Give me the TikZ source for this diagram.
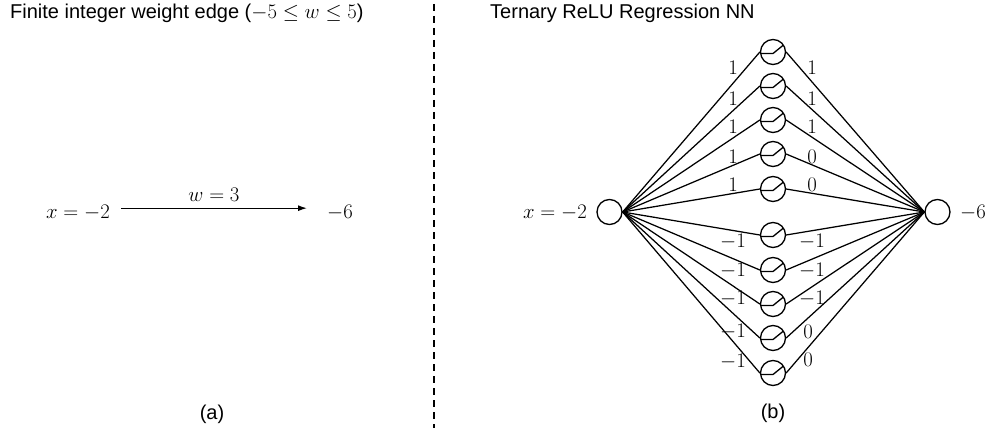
\documentclass[tikz,border=0pt]{standalone}
\usepackage{fontspec}
\setmainfont{Liberation Sans}
\usetikzlibrary{arrows.meta}
\tikzset{
  neuron/.style={draw, circle, minimum size=25pt, inner sep=0pt, line width=1.3pt},
  relu/.style={neuron, path picture={\draw[line width=1.3pt]
      ([xshift=-12pt,yshift=-1.5pt]path picture bounding box.center) -- ++(12pt,0) -- ++(10.5pt,8.5pt);}},
  conn/.style={line width=1.25pt},
  wl/.style={inner sep=0pt, anchor=center},
  txt/.style={inner sep=0pt},
}
\begin{document}
\begin{tikzpicture}[x=1pt,y=-1pt]
\fontsize{20}{24}\selectfont
\useasboundingbox (0,0) rectangle (986,428);
% titles
\node[txt, anchor=base west] (ta) at (10,18.5) {Finite integer weight edge ($-5\le w\le 5$)};
\node[txt, anchor=base west] (tb) at (490,19) {Ternary ReLU Regression NN};
\node[txt, anchor=base] (capa) at (212,419) {(a)};
\node[txt, anchor=base] (capb) at (773,418) {(b)};
% divider
\coordinate (d1) at (434,4);
\coordinate (d2) at (434,428);
\draw[line width=1.2pt, dash pattern=on 7pt off 5pt] (d1) -- (d2);
% panel (a)
\node[txt, anchor=base east] (xa) at (110,218) {$x=-2$};
\node[txt, anchor=base west] (ya) at (327,218) {$-6$};
\draw[conn, -{Latex[length=9pt,width=6pt]}] ([xshift=11pt,yshift=4pt]xa.east) -- ([xshift=-20pt,yshift=4pt]ya.west)
  node[midway, above=6pt, inner sep=0pt] (wa) {$w=3$};
% panel (b)
\node[neuron] (in) at (609.5,212) {};
\node[neuron] (out) at (937.5,212) {};
\node[txt, anchor=base east] (xb) at (587,218) {$x=-2$};
\node[txt, anchor=base west] (yb) at (960,218) {$-6$};
\foreach \i/\y in {1/52,2/86,3/120,4/154,5/189,6/235,7/270,8/304,9/338,10/373}{
  \node[relu] (h\i) at (773,\y) {};
  \draw[conn] (in.east) -- (h\i.west);
  \draw[conn] (h\i.east) -- (out.west);
}
% weights left
\foreach \i/\y/\t in {1/68/1,2/99/1,3/127/1,4/157/1,5/185/1,6/242/-1,7/271/-1,8/299/-1,9/332/-1,10/362/-1}{
  \node[wl] (wl\i) at (733,\y) {$\t$};
}
% weights right
\foreach \i/\x/\y/\t in {1/812/68/1,2/812/99/1,3/812/127/1,4/812/157/0,5/812/185/0,6/812/242/-1,7/812/271/-1,8/812/299/-1,9/808/332/0,10/808/360/0}{
  \node[wl] (wr\i) at (\x,\y) {$\t$};
}
\end{tikzpicture}
\end{document}
